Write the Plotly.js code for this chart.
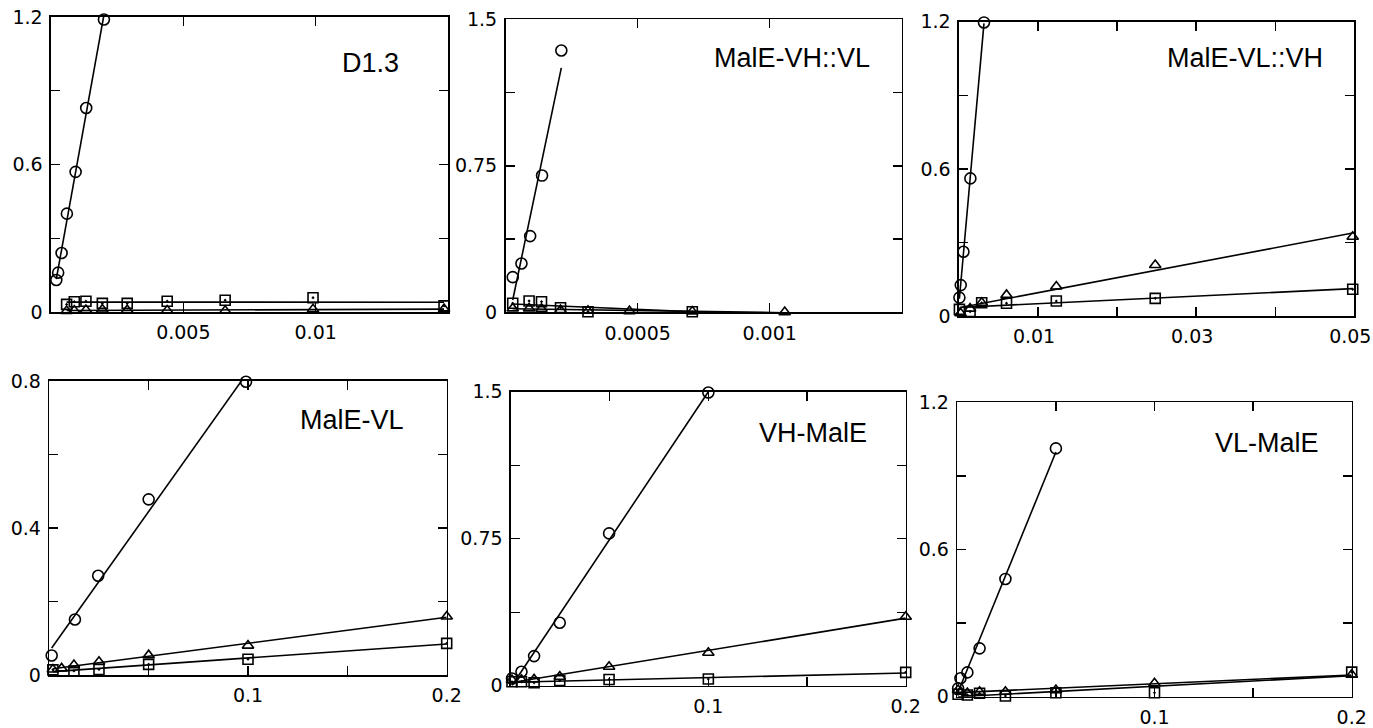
<!DOCTYPE html>
<html>
<head>
<meta charset="utf-8">
<script src="https://cdn.plot.ly/plotly-3.0.1.min.js"></script>
<style>html,body{margin:0;padding:0;background:#fff;}#chart{width:1373px;height:728px;}</style>
</head>
<body>
<div id="chart"></div>
<script>
// ---------- DATA ----------
const panelNames = ["D1.3", "MalE-VH::VL", "MalE-VL::VH", "MalE-VL", "VH-MalE", "VL-MalE"];

// D1.3
const p1CircX = [0.0002, 0.00027, 0.0004, 0.0006, 0.00093, 0.00133, 0.002];
const p1CircY = [0.13, 0.16, 0.24, 0.40, 0.57, 0.83, 1.19];
const p1TriX  = [0.00059, 0.00088, 0.00132, 0.00194, 0.00288, 0.00439, 0.00658, 0.0099, 0.01485];
const p1TriY  = [0.004, 0.006, 0.008, 0.010, 0.008, 0.006, 0.005, 0.011, 0.012];
const p1SqX   = [0.00059, 0.00088, 0.00132, 0.00194, 0.00288, 0.00439, 0.00658, 0.0099, 0.01485];
const p1SqY   = [0.031, 0.042, 0.044, 0.035, 0.035, 0.044, 0.048, 0.058, 0.025];

// MalE-VH::VL
const p2CircX = [0.000027, 0.00006, 0.000093, 0.000138, 0.000211];
const p2CircY = [0.18, 0.25, 0.39, 0.70, 1.34];
const p2TriX  = [0.000027, 0.000089, 0.000136, 0.000208, 0.000312, 0.000469, 0.000707, 0.001057];
const p2TriY  = [0.020, 0.020, 0.018, 0.012, 0.008, 0.006, 0.004, 0.001];
const p2SqX   = [0.000027, 0.000089, 0.000136, 0.000208, 0.000312, 0.000469, 0.000707, 0.001057];
const p2SqY   = [0.046, 0.058, 0.054, 0.023, 0.003, -0.004, 0.003, -0.003];

// MalE-VL::VH
const p3CircX = [0.00005, 0.00022, 0.00056, 0.00144, 0.00316];
const p3CircY = [0.075, 0.126, 0.262, 0.561, 1.197];
const p3TriX  = [0.0002, 0.0014, 0.00287, 0.00601, 0.01231, 0.02482, 0.0498];
const p3TriY  = [0.011, 0.030, 0.054, 0.086, 0.120, 0.208, 0.323];
const p3SqX   = [0.00005, 0.0014, 0.00287, 0.00601, 0.01231, 0.02482, 0.0498];
const p3SqY   = [0.027, 0.018, 0.054, 0.052, 0.061, 0.072, 0.109];

// MalE-VL
const p4CircX = [0.0012, 0.0129, 0.0246, 0.05, 0.099];
const p4CircY = [0.053, 0.151, 0.270, 0.478, 0.798];
const p4TriX  = [0.0018, 0.0062, 0.0124, 0.025, 0.05, 0.1, 0.2];
const p4TriY  = [0.015, 0.018, 0.027, 0.036, 0.054, 0.080, 0.159];
const p4SqX   = [0.0018, 0.0124, 0.025, 0.05, 0.1, 0.2];
const p4SqY   = [0.014, 0.011, 0.015, 0.029, 0.043, 0.086];

// VH-MalE
const p5CircX = [0.0005, 0.0053, 0.0117, 0.0247, 0.0497, 0.1];
const p5CircY = [0.037, 0.071, 0.151, 0.321, 0.777, 1.496];
const p5TriX  = [0.0005, 0.0053, 0.0117, 0.0247, 0.0497, 0.1, 0.2];
const p5TriY  = [0.029, 0.030, 0.032, 0.046, 0.097, 0.168, 0.352];
const p5SqX   = [0.0005, 0.0053, 0.0117, 0.0247, 0.0497, 0.1, 0.2];
const p5SqY   = [0.020, 0.020, 0.015, 0.026, 0.032, 0.034, 0.068];

// VL-MalE
const p6CircX = [0.0004, 0.0016, 0.0051, 0.0113, 0.0244, 0.05];
const p6CircY = [0.034, 0.075, 0.099, 0.197, 0.480, 1.012];
const p6TriX  = [0.0004, 0.0016, 0.0051, 0.0113, 0.0244, 0.05, 0.1, 0.2];
const p6TriY  = [0.027, 0.020, 0.015, 0.020, 0.020, 0.027, 0.055, 0.090];
const p6SqX   = [0.0004, 0.0051, 0.0113, 0.0244, 0.05, 0.1, 0.2];
const p6SqY   = [0.010, 0.007, 0.014, 0.003, 0.016, 0.016, 0.100];

// axis ticks
const p1XTicks = [0, 0.005, 0.01, 0.015];            const p1XText = ["", "0.005", "0.01", ""];
const p1YTicks = [0, 0.3, 0.6, 0.9, 1.2];            const p1YText = ["0", "", "0.6", "", "1.2"];
const p2XTicks = [0, 0.0005, 0.001, 0.0015];         const p2XText = ["", "0.0005", "0.001", ""];
const p2YTicks = [0, 0.375, 0.75, 1.125, 1.5];       const p2YText = ["0", "", "0.75", "", "1.5"];
const p3XTicks = [0, 0.01, 0.02, 0.03, 0.04, 0.05];  const p3XText = ["", "0.01", "", "0.03", "", "0.05"];
const p3YTicks = [0, 0.3, 0.6, 0.9, 1.2];            const p3YText = ["0", "", "0.6", "", "1.2"];
const p4XTicks = [0, 0.05, 0.1, 0.15, 0.2];          const p4XText = ["", "", "0.1", "", "0.2"];
const p4YTicks = [0, 0.2, 0.4, 0.6, 0.8];            const p4YText = ["0", "", "0.4", "", "0.8"];
const p5XTicks = [0, 0.05, 0.1, 0.15, 0.2];          const p5XText = ["", "", "0.1", "", "0.2"];
const p5YTicks = [0, 0.375, 0.75, 1.125, 1.5];       const p5YText = ["0", "", "0.75", "", "1.5"];
const p6XTicks = [0, 0.05, 0.1, 0.15, 0.2];          const p6XText = ["", "", "0.1", "", "0.2"];
const p6YTicks = [0, 0.3, 0.6, 0.9, 1.2];            const p6YText = ["0", "", "0.6", "", "1.2"];

// ---------- LAYOUT GEOMETRY (pixels) ----------
const W = 1373, H = 728;
const boxes = [
  {l: 51,    r: 448,    t: 17,    b: 312},
  {l: 505.6, r: 901.7,  t: 19.3,  b: 312.3},
  {l: 959,   r: 1354.3, t: 21.7,  b: 316},
  {l: 49.3,  r: 446.7,  t: 381,   b: 675},
  {l: 511,   r: 905.7,  t: 391.7, b: 685.7},
  {l: 957.3, r: 1351.7, t: 402.3, b: 696.7}
];
const xLabelShift = [0, 0, -4, 0, 0, 0];
const labelPos = [
  {x: 370, y: 63}, {x: 792, y: 58}, {x: 1245, y: 58},
  {x: 352, y: 420}, {x: 813, y: 433}, {x: 1267, y: 443}
];

const panels = [
  {circ: [p1CircX, p1CircY], tri: [p1TriX, p1TriY], sq: [p1SqX, p1SqY], xt: [p1XTicks, p1XText], yt: [p1YTicks, p1YText]},
  {circ: [p2CircX, p2CircY], tri: [p2TriX, p2TriY], sq: [p2SqX, p2SqY], xt: [p2XTicks, p2XText], yt: [p2YTicks, p2YText]},
  {circ: [p3CircX, p3CircY], tri: [p3TriX, p3TriY], sq: [p3SqX, p3SqY], xt: [p3XTicks, p3XText], yt: [p3YTicks, p3YText]},
  {circ: [p4CircX, p4CircY], tri: [p4TriX, p4TriY], sq: [p4SqX, p4SqY], xt: [p4XTicks, p4XText], yt: [p4YTicks, p4YText]},
  {circ: [p5CircX, p5CircY], tri: [p5TriX, p5TriY], sq: [p5SqX, p5SqY], xt: [p5XTicks, p5XText], yt: [p5YTicks, p5YText]},
  {circ: [p6CircX, p6CircY], tri: [p6TriX, p6TriY], sq: [p6SqX, p6SqY], xt: [p6XTicks, p6XText], yt: [p6YTicks, p6YText]}
];

// least-squares fit line through a series
function fitLine(xs, ys) {
  const n = xs.length;
  const mx = xs.reduce((a, b) => a + b, 0) / n;
  const my = ys.reduce((a, b) => a + b, 0) / n;
  let sxy = 0, sxx = 0;
  for (let i = 0; i < n; i++) { sxy += (xs[i] - mx) * (ys[i] - my); sxx += (xs[i] - mx) ** 2; }
  const b = sxy / sxx, a = my - b * mx;
  const x0 = Math.min(...xs), x1 = Math.max(...xs);
  return {x: [x0, x1], y: [a + b * x0, a + b * x1]};
}

const FONT = "Liberation Sans, Arial, Helvetica, sans-serif";
const TICKFONT = "DejaVu Sans, Verdana, sans-serif";
const traces = [];
const layout = {
  width: W, height: H,
  margin: {l: 0, r: 0, t: 0, b: 0},
  paper_bgcolor: "#fff", plot_bgcolor: "#fff",
  showlegend: false,
  font: {family: FONT, color: "#000", size: 19},
  annotations: []
};

const markerDefs = {
  circ: {symbol: "circle-open", size: 11},
  tri:  {symbol: "triangle-up-open", size: 10},
  sq:   {symbol: "square-open-dot", size: 10}
};

panels.forEach((p, i) => {
  const k = i + 1;
  const xa = "x" + (k === 1 ? "" : k), ya = "y" + (k === 1 ? "" : k);
  ["sq", "tri", "circ"].forEach(s => {
    const [xs, ys] = p[s];
    const f = fitLine(xs, ys);
    traces.push({x: f.x, y: f.y, xaxis: xa, yaxis: ya, mode: "lines", type: "scatter",
      line: {color: "#000", width: 1.6}, hoverinfo: "skip"});
    traces.push({x: xs, y: ys, xaxis: xa, yaxis: ya, mode: "markers", type: "scatter", cliponaxis: false,
      marker: {symbol: markerDefs[s].symbol, size: markerDefs[s].size, color: "#000", line: {color: "#000", width: 1.6}}});
  });
  const bx = boxes[i];
  const common = {
    showgrid: false, zeroline: false, showline: true, linecolor: "#000", linewidth: 1.6,
    ticks: "inside", ticklen: 9, tickwidth: 1.4, tickcolor: "#000", mirror: "ticks",
    tickfont: {family: TICKFONT, size: 19, color: "#000"}, ticklabelstandoff: 3,
    ticklabeloverflow: "allow", fixedrange: true
  };
  layout["xaxis" + (k === 1 ? "" : k)] = Object.assign({}, common, {
    domain: [bx.l / W, bx.r / W], anchor: ya,
    range: [p.xt[0][0], p.xt[0][p.xt[0].length - 1]],
    tickmode: "array", tickvals: p.xt[0], ticktext: p.xt[1],
    ticklabelshift: xLabelShift[i]
  });
  layout["yaxis" + (k === 1 ? "" : k)] = Object.assign({}, common, {
    domain: [1 - bx.b / H, 1 - bx.t / H], anchor: xa,
    range: [p.yt[0][0], p.yt[0][p.yt[0].length - 1]],
    tickmode: "array", tickvals: p.yt[0], ticktext: p.yt[1]
  });
  layout.annotations.push({
    text: panelNames[i], xref: "paper", yref: "paper",
    x: labelPos[i].x / W, y: 1 - labelPos[i].y / H, xanchor: "center", yanchor: "middle",
    showarrow: false, font: {family: FONT, size: 27, color: "#000"}
  });
});

Plotly.newPlot("chart", traces, layout, {staticPlot: true, displayModeBar: false});
</script>
</body>
</html>
